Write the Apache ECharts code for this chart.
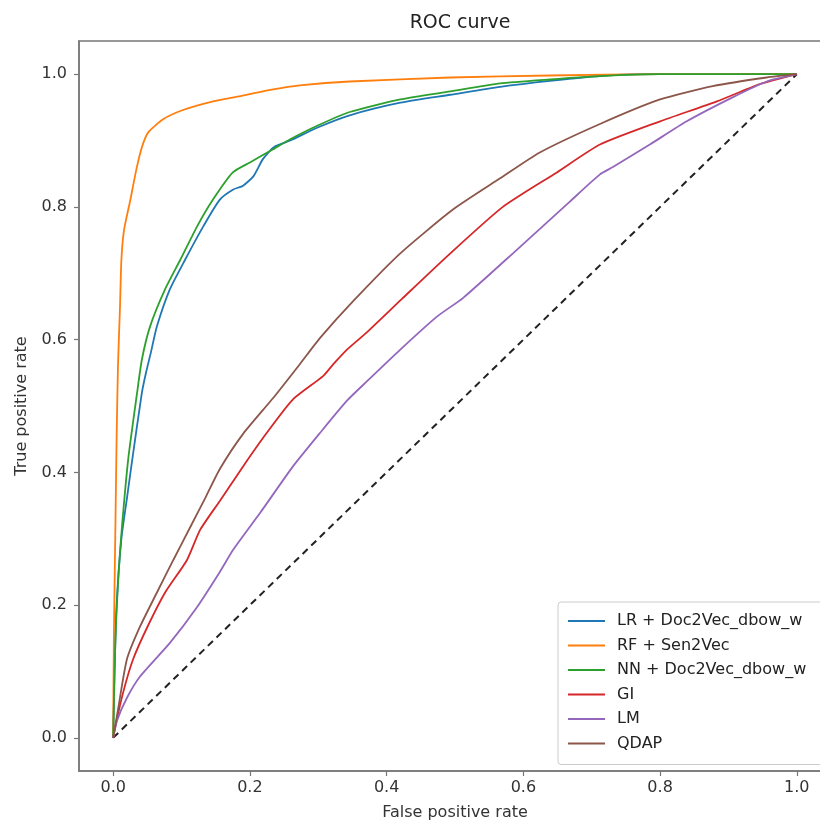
<!DOCTYPE html>
<html>
<head>
<meta charset="utf-8">
<script src="https://cdn.jsdelivr.net/npm/echarts@6/dist/echarts.min.js"></script>
<style>html,body{margin:0;padding:0;background:#fff;overflow:hidden}#c{width:820px;height:823px}</style>
</head>
<body>
<div id="c"></div>
<script>
const seriesNames = ['LR + Doc2Vec_dbow_w','RF + Sen2Vec','NN + Doc2Vec_dbow_w','GI','LM','QDAP'];
const seriesColors = ['#1f77b4','#ff7f0e','#2ca02c','#d62728','#9467bd','#8c564b'];
const tickValues = [0, 0.2, 0.4, 0.6, 0.8, 1.0];

const lrData = [[0,0],[0.002,0.1],[0.005,0.2],[0.012,0.3],[0.02,0.36],[0.028,0.42],[0.042,0.52],[0.048,0.55],[0.055,0.58],[0.064,0.62],[0.083,0.676],[0.105,0.72],[0.132,0.771],[0.156,0.811],[0.175,0.826],[0.19,0.832],[0.205,0.846],[0.219,0.872],[0.235,0.89],[0.259,0.9],[0.3,0.92],[0.346,0.938],[0.42,0.957],[0.493,0.969],[0.566,0.981],[0.639,0.99],[0.72,0.998],[0.8,1],[1,1]];
const rfData = [[0,0],[0.001,0.15],[0.003,0.3],[0.005,0.45],[0.007,0.56],[0.01,0.65],[0.012,0.72],[0.016,0.766],[0.025,0.81],[0.034,0.857],[0.042,0.89],[0.051,0.912],[0.073,0.932],[0.102,0.946],[0.142,0.958],[0.186,0.967],[0.234,0.977],[0.273,0.983],[0.346,0.989],[0.493,0.995],[0.639,0.998],[0.8,1],[1,1]];
const nnData = [[0,0],[0.002,0.1],[0.004,0.17],[0.008,0.25],[0.013,0.32],[0.022,0.42],[0.035,0.52],[0.042,0.57],[0.054,0.62],[0.076,0.676],[0.098,0.72],[0.123,0.771],[0.146,0.811],[0.175,0.852],[0.2,0.867],[0.234,0.887],[0.259,0.902],[0.3,0.923],[0.346,0.943],[0.42,0.962],[0.493,0.974],[0.566,0.986],[0.639,0.992],[0.712,0.997],[0.8,1],[1,1]];
const giData = [[0,0],[0.003,0.017],[0.015,0.07],[0.029,0.118],[0.05,0.167],[0.076,0.219],[0.108,0.268],[0.127,0.313],[0.156,0.357],[0.19,0.409],[0.225,0.46],[0.263,0.51],[0.307,0.545],[0.322,0.563],[0.342,0.585],[0.371,0.611],[0.422,0.661],[0.49,0.727],[0.57,0.8],[0.649,0.852],[0.712,0.894],[0.8,0.929],[0.883,0.959],[0.946,0.985],[1,1]];
const lmData = [[0,0],[0.006,0.027],[0.02,0.06],[0.039,0.092],[0.083,0.143],[0.122,0.196],[0.156,0.25],[0.176,0.284],[0.215,0.339],[0.263,0.409],[0.303,0.46],[0.342,0.508],[0.371,0.537],[0.42,0.585],[0.474,0.635],[0.512,0.663],[0.59,0.735],[0.668,0.808],[0.712,0.849],[0.731,0.86],[0.785,0.894],[0.839,0.929],[0.906,0.965],[0.956,0.989],[1,1]];
const qdapData = [[0,0],[0.007,0.042],[0.02,0.118],[0.039,0.167],[0.064,0.219],[0.088,0.268],[0.113,0.318],[0.135,0.362],[0.156,0.405],[0.19,0.458],[0.234,0.512],[0.273,0.563],[0.303,0.603],[0.351,0.658],[0.42,0.73],[0.497,0.796],[0.566,0.843],[0.624,0.882],[0.712,0.925],[0.8,0.962],[0.877,0.982],[0.956,0.995],[1,1]];
const diagData = [[0,0],[1,1]];

const allData = [lrData, rfData, nnData, giData, lmData, qdapData];
const FONT = 'DejaVu Sans';

const chart = echarts.init(document.getElementById('c'), null, {renderer:'canvas'});
const series = allData.map((d,i)=>({
  name: seriesNames[i], type:'line', data:d, showSymbol:false, symbol:'none',
  smooth:0.2,
  lineStyle:{color:seriesColors[i], width:1.8}, itemStyle:{color:seriesColors[i]},
  z: 3 + i, animation:false
}));
series.push({name:'diag', type:'line', data:diagData, showSymbol:false, symbol:'none',
  lineStyle:{color:'#222', width:2, type:[7,5]}, z:2, animation:false});

const axisCommon = {
  type:'value', min:-0.05, max:1.05,
  axisLine:{show:true, onZero:false, lineStyle:{color:'#777', width:1.5}},
  axisTick:{show:true, customValues:tickValues, length:5, lineStyle:{color:'#777', width:1.2}},
  axisLabel:{customValues:tickValues, formatter:v=>v.toFixed(1), color:'#333', fontFamily:FONT, fontSize:16},
  splitLine:{show:false},
  nameLocation:'middle',
  nameTextStyle:{color:'#333', fontFamily:FONT, fontSize:16}
};

chart.setOption({
  animation:false,
  backgroundColor:'#fff',
  title:{text:'ROC curve', left:455, textAlign:'center', top:9, textStyle:{fontFamily:FONT, fontSize:19, fontWeight:'normal', color:'#222'}},
  grid:{left:79, top:41, width:752, height:730, outerBoundsMode:'none', containLabel:false, show:true, borderColor:'#777', borderWidth:1.5, backgroundColor:'#fff'},
  xAxis:Object.assign({}, axisCommon, {name:'False positive rate', nameGap:34, axisLabel:Object.assign({}, axisCommon.axisLabel, {margin:9})}),
  yAxis:Object.assign({}, axisCommon, {name:'True positive rate', nameGap:49, axisLabel:Object.assign({}, axisCommon.axisLabel, {margin:12})}),
  legend:{
    data:seriesNames, orient:'vertical', left:558, top:602,
    icon:'rect', itemWidth:37, itemHeight:2, itemGap:6.5,
    padding:[10,24,12,10],
    backgroundColor:'rgba(255,255,255,0.85)', borderColor:'#ccc', borderWidth:1, borderRadius:3,
    textStyle:{fontFamily:FONT, fontSize:16, color:'#222', lineHeight:18, padding:[0,0,0,7]},
    selectedMode:false
  },
  series:series
});
</script>
</body>
</html>
